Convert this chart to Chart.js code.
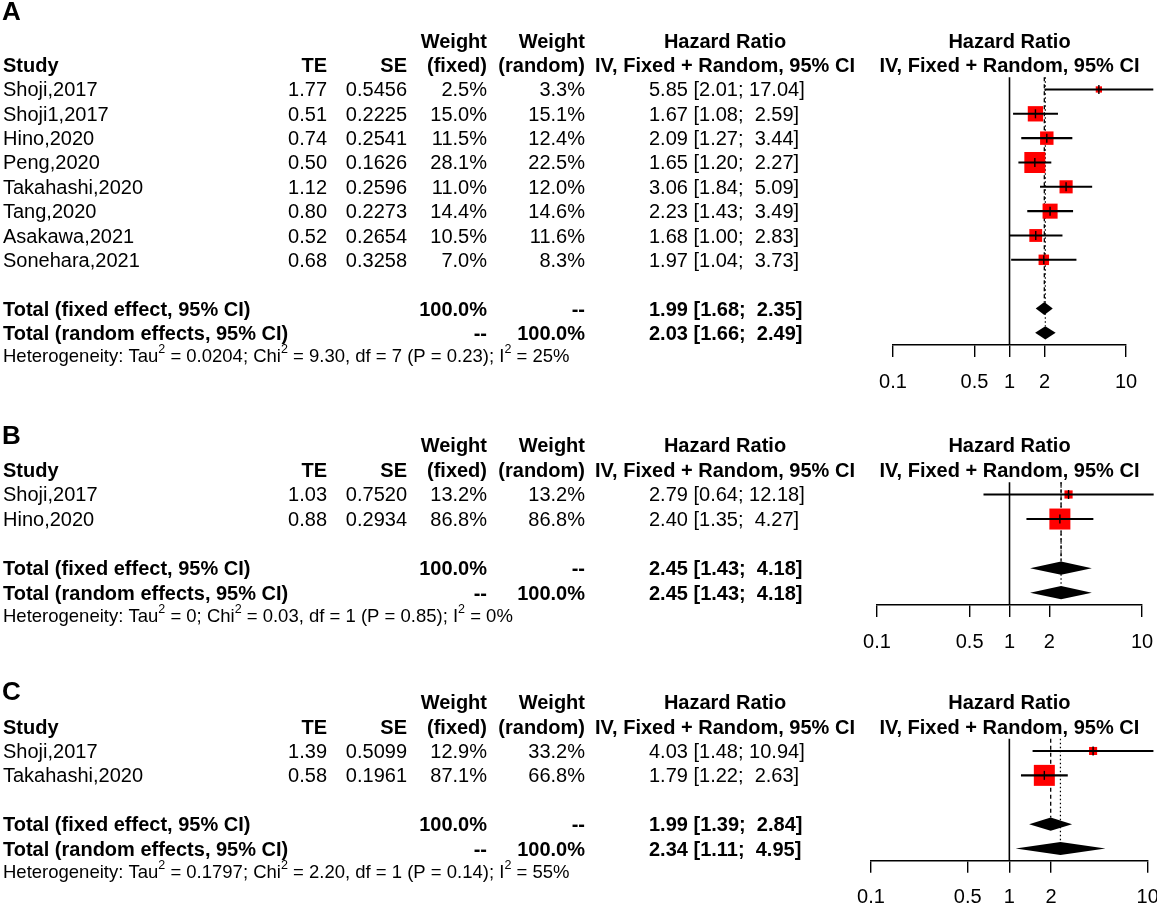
<!DOCTYPE html>
<html>
<head>
<meta charset="utf-8">
<title>Forest plots - Hazard Ratio</title>
<script src="https://cdn.jsdelivr.net/npm/chart.js@4"></script>
<style>
  html, body { margin: 0; padding: 0; background: #fff; }
  #page { position: relative; width: 1157px; height: 904px; overflow: hidden; }
  #page canvas { position: absolute; left: 0; }
</style>
</head>
<body>
<div id="page">
  <canvas id="forestA" width="1157" height="410" style="top:0px"></canvas>
  <canvas id="forestB" width="1157" height="255" style="top:410px"></canvas>
  <canvas id="forestC" width="1157" height="239" style="top:665px"></canvas>
</div>
<script>
// ---- Panel A ----
var studiesA = ['Shoji,2017', 'Shoji1,2017', 'Hino,2020', 'Peng,2020', 'Takahashi,2020', 'Tang,2020', 'Asakawa,2021', 'Sonehara,2021'];
var teA = [1.77, 0.51, 0.74, 0.50, 1.12, 0.80, 0.52, 0.68];
var seA = [0.5456, 0.2225, 0.2541, 0.1626, 0.2596, 0.2273, 0.2654, 0.3258];
var wFixedA = [2.5, 15.0, 11.5, 28.1, 11.0, 14.4, 10.5, 7.0];
var wRandomA = [3.3, 15.1, 12.4, 22.5, 12.0, 14.6, 11.6, 8.3];
var hrA = [5.85, 1.67, 2.09, 1.65, 3.06, 2.23, 1.68, 1.97];
var loA = [2.01, 1.08, 1.27, 1.20, 1.84, 1.43, 1.00, 1.04];
var hiA = [17.04, 2.59, 3.44, 2.27, 5.09, 3.49, 2.83, 3.73];
var fixedA = [1.99, 1.68, 2.35];   // HR, lower, upper
var randomA = [2.03, 1.66, 2.49];
var hetA = ['0.0204', '9.30', '7', '0.23', '25%'];  // Tau2, Chi2, df, P, I2

// ---- Panel B ----
var studiesB = ['Shoji,2017', 'Hino,2020'];
var teB = [1.03, 0.88];
var seB = [0.7520, 0.2934];
var wFixedB = [13.2, 86.8];
var wRandomB = [13.2, 86.8];
var hrB = [2.79, 2.40];
var loB = [0.64, 1.35];
var hiB = [12.18, 4.27];
var fixedB = [2.45, 1.43, 4.18];
var randomB = [2.45, 1.43, 4.18];
var hetB = ['0', '0.03', '1', '0.85', '0%'];

// ---- Panel C ----
var studiesC = ['Shoji,2017', 'Takahashi,2020'];
var teC = [1.39, 0.58];
var seC = [0.5099, 0.1961];
var wFixedC = [12.9, 87.1];
var wRandomC = [33.2, 66.8];
var hrC = [4.03, 1.79];
var loC = [1.48, 1.22];
var hiC = [10.94, 2.63];
var fixedC = [1.99, 1.39, 2.84];
var randomC = [2.34, 1.11, 4.95];
var hetC = ['0.1797', '2.20', '1', '0.14', '55%'];

// x axis ticks
var tickValues = [0.1, 0.5, 1, 2, 10];
var tickLabels = ['0.1', '0.5', '1', '2', '10'];

var FONT = "'Liberation Sans', Arial, Helvetica, sans-serif";
var DIAMOND_H = 0.27;   // half height of summary diamonds, in rows
var MAX_BOX = 21;       // side of the biggest square, px
var TEXT_DY = 1.5;      // nudge so text sits on the row centre

// column positions of the table (px)
var COL = { study: 3, te: 327, se: 407, wFixed: 487, wRandom: 585, hr: 649, hrHead: 725 };

var panels = [
  { canvas: 'forestA', letter: 'A', letterY: 20, studies: studiesA, te: teA, se: seA, wFixed: wFixedA, wRandom: wRandomA,
    hr: hrA, lo: loA, hi: hiA, fixed: fixedA, random: randomA, het: hetA,
    padding: { left: 893, right: 31, top: 77.3, bottom: 0 }, axisH: 65 },
  { canvas: 'forestB', letter: 'B', letterY: 34, studies: studiesB, te: teB, se: seB, wFixed: wFixedB, wRandom: wRandomB,
    hr: hrB, lo: loB, hi: hiB, fixed: fixedB, random: randomB, het: hetB,
    padding: { left: 877, right: 15, top: 72.2, bottom: 0 }, axisH: 60 },
  { canvas: 'forestC', letter: 'C', letterY: 35, studies: studiesC, te: teC, se: seC, wFixed: wFixedC, wRandom: wRandomC,
    hr: hrC, lo: loC, hi: hiC, fixed: fixedC, random: randomC, het: hetC,
    padding: { left: 871, right: 9.3, top: 73.8, bottom: 0 }, axisH: 43.3 }
];

function ciText(h, l, u) {
  var up = u.toFixed(2);
  if (up.length < 5) up = ' ' + up;
  return h.toFixed(2) + ' [' + l.toFixed(2) + '; ' + up + ']';
}

function put(ctx, s, x, y, align, bold, size) {
  ctx.font = (bold ? 'bold ' : '') + (size || 20) + 'px ' + FONT;
  ctx.textAlign = align;
  ctx.fillText(s, x, y);
}

// heterogeneity line with superscript 2s
function drawHet(ctx, h, x0, yy) {
  var parts = [['Heterogeneity: Tau', 0], ['2', 1], [' = ' + h[0] + '; Chi', 0], ['2', 1],
    [' = ' + h[1] + ', df = ' + h[2] + ' (P = ' + h[3] + '); I', 0], ['2', 1], [' = ' + h[4], 0]];
  var cx = x0;
  ctx.textAlign = 'left';
  parts.forEach(function (pt) {
    ctx.font = (pt[1] ? '12.5px ' : '18.5px ') + FONT;
    ctx.fillText(pt[0], cx, pt[1] ? yy - 7 : yy);
    cx += ctx.measureText(pt[0]).width;
  });
}

// the text columns left of the plot
var tablePlugin = {
  id: 'forestTable',
  afterDraw: function (chart) {
    var p = chart.options.plugins.forestTable.panel;
    var ctx = chart.ctx, ys = chart.scales.y, xs = chart.scales.x;
    var n = p.studies.length;
    var row = function (r) { return ys.getPixelForValue(r) + TEXT_DY; };
    var xOne = xs.getPixelForValue(1);
    ctx.save();
    ctx.fillStyle = '#000';

    ctx.textBaseline = 'alphabetic';
    put(ctx, p.letter, 2, p.letterY, 'left', true, 26);

    ctx.textBaseline = 'middle';
    // headers
    put(ctx, 'Weight', COL.wFixed, row(-2), 'right', true);
    put(ctx, 'Weight', COL.wRandom, row(-2), 'right', true);
    put(ctx, 'Hazard Ratio', COL.hrHead, row(-2), 'center', true);
    put(ctx, 'Hazard Ratio', xOne, row(-2), 'center', true);
    put(ctx, 'Study', COL.study, row(-1), 'left', true);
    put(ctx, 'TE', COL.te, row(-1), 'right', true);
    put(ctx, 'SE', COL.se, row(-1), 'right', true);
    put(ctx, '(fixed)', COL.wFixed, row(-1), 'right', true);
    put(ctx, '(random)', COL.wRandom, row(-1), 'right', true);
    put(ctx, 'IV, Fixed + Random, 95% CI', COL.hrHead, row(-1), 'center', true);
    put(ctx, 'IV, Fixed + Random, 95% CI', xOne, row(-1), 'center', true);

    // study rows
    for (var i = 0; i < n; i++) {
      var y = row(i);
      put(ctx, p.studies[i], COL.study, y, 'left', false);
      put(ctx, p.te[i].toFixed(2), COL.te, y, 'right', false);
      put(ctx, p.se[i].toFixed(4), COL.se, y, 'right', false);
      put(ctx, p.wFixed[i].toFixed(1) + '%', COL.wFixed, y, 'right', false);
      put(ctx, p.wRandom[i].toFixed(1) + '%', COL.wRandom, y, 'right', false);
      put(ctx, ciText(p.hr[i], p.lo[i], p.hi[i]), COL.hr, y, 'left', false);
    }

    // totals
    var yf = row(n + 1), yr = row(n + 2);
    put(ctx, 'Total (fixed effect, 95% CI)', COL.study, yf, 'left', true);
    put(ctx, '100.0%', COL.wFixed, yf, 'right', true);
    put(ctx, '--', COL.wRandom, yf, 'right', true);
    put(ctx, ciText(p.fixed[0], p.fixed[1], p.fixed[2]), COL.hr, yf, 'left', true);
    put(ctx, 'Total (random effects, 95% CI)', COL.study, yr, 'left', true);
    put(ctx, '--', COL.wFixed, yr, 'right', true);
    put(ctx, '100.0%', COL.wRandom, yr, 'right', true);
    put(ctx, ciText(p.random[0], p.random[1], p.random[2]), COL.hr, yr, 'left', true);

    drawHet(ctx, p.het, COL.study, row(n + 2.92));
    ctx.restore();
  },
  // summary diamonds
  afterDatasetsDraw: function (chart) {
    var p = chart.options.plugins.forestTable.panel;
    var ctx = chart.ctx, ys = chart.scales.y, xs = chart.scales.x;
    var n = p.studies.length;
    [[p.fixed, n + 1], [p.random, n + 2]].forEach(function (d) {
      var est = d[0], r = d[1];
      var yc = ys.getPixelForValue(r);
      var hh = ys.getPixelForValue(r + DIAMOND_H) - yc;
      ctx.save();
      ctx.fillStyle = '#000';
      ctx.beginPath();
      ctx.moveTo(xs.getPixelForValue(est[1]), yc);
      ctx.lineTo(xs.getPixelForValue(est[0]), yc - hh);
      ctx.lineTo(xs.getPixelForValue(est[2]), yc);
      ctx.lineTo(xs.getPixelForValue(est[0]), yc + hh);
      ctx.closePath();
      ctx.fill();
      ctx.restore();
    });
  }
};

function renderForest(p) {
  var n = p.studies.length;
  var fixedRow = n + 1, randomRow = n + 2, axisRow = n + 2.5;
  var maxW = Math.max.apply(null, p.wFixed);
  var points = p.hr.map(function (v, i) { return { x: v, y: i }; });

  var datasets = [
    // small vertical mark at each estimate
    { type: 'scatter', data: points, pointStyle: 'line', pointRotation: 90, pointRadius: 4.5,
      pointBorderColor: '#000', pointBorderWidth: 1.4, clip: false },
    // confidence intervals as thin floating bars
    { type: 'bar', indexAxis: 'y', data: p.lo.map(function (v, i) { return { x: [v, p.hi[i]], y: i }; }),
      barThickness: 1.4, backgroundColor: '#000', borderWidth: 0, clip: false },
    // weight squares
    { type: 'scatter', data: points, pointStyle: 'rect',
      pointRadius: p.wFixed.map(function (w) { return MAX_BOX * Math.sqrt(w / maxW) / Math.SQRT2; }),
      pointBackgroundColor: '#ff0000', pointBorderWidth: 0, clip: false },
    // line of no effect
    { type: 'line', data: [{ x: 1, y: -0.5 }, { x: 1, y: axisRow }], borderColor: '#000', borderWidth: 1.6,
      pointRadius: 0, clip: false },
    // fixed effect estimate (dashed)
    { type: 'line', data: [{ x: p.fixed[0], y: -0.5 }, { x: p.fixed[0], y: fixedRow - DIAMOND_H }],
      borderColor: '#000', borderWidth: 1.3, borderDash: [4, 3], pointRadius: 0, clip: false },
    // random effects estimate (dotted)
    { type: 'line', data: [{ x: p.random[0], y: -0.5 }, { x: p.random[0], y: randomRow - DIAMOND_H }],
      borderColor: '#000', borderWidth: 1.2, borderDash: [1.5, 2.5], pointRadius: 0, clip: false }
  ];

  var config = {
    type: 'scatter',
    data: { datasets: datasets },
    options: {
      responsive: false,
      animation: false,
      events: [],
      layout: { padding: p.padding, autoPadding: false },
      plugins: {
        legend: { display: false },
        tooltip: { enabled: false },
        forestTable: { panel: p }
      },
      scales: {
        x: {
          type: 'logarithmic',
          min: 0.1,
          max: 10,
          bounds: 'data',
          offset: false,
          afterBuildTicks: function (s) { s.ticks = tickValues.map(function (v) { return { value: v }; }); },
          afterFit: function (s) { s.height = p.axisH; s.paddingLeft = 0; s.paddingRight = 0; },
          ticks: {
            autoSkip: false, maxRotation: 0, padding: 13, color: '#000',
            font: { family: FONT, size: 20 },
            callback: function (v, i) { return tickLabels[i]; }
          },
          grid: { drawOnChartArea: false, drawTicks: true, tickLength: 12, color: '#000', lineWidth: 1.4, offset: false },
          border: { display: true, color: '#000', width: 1.4 }
        },
        y: { type: 'linear', reverse: true, min: -0.5, max: axisRow, bounds: 'data', offset: false,
          grid: { offset: false }, display: false }
      }
    },
    plugins: [tablePlugin]
  };

  var ctx = document.getElementById(p.canvas);
  if (ctx) {
    new Chart(ctx, config);
  }
}

panels.forEach(renderForest);
</script>
</body>
</html>
